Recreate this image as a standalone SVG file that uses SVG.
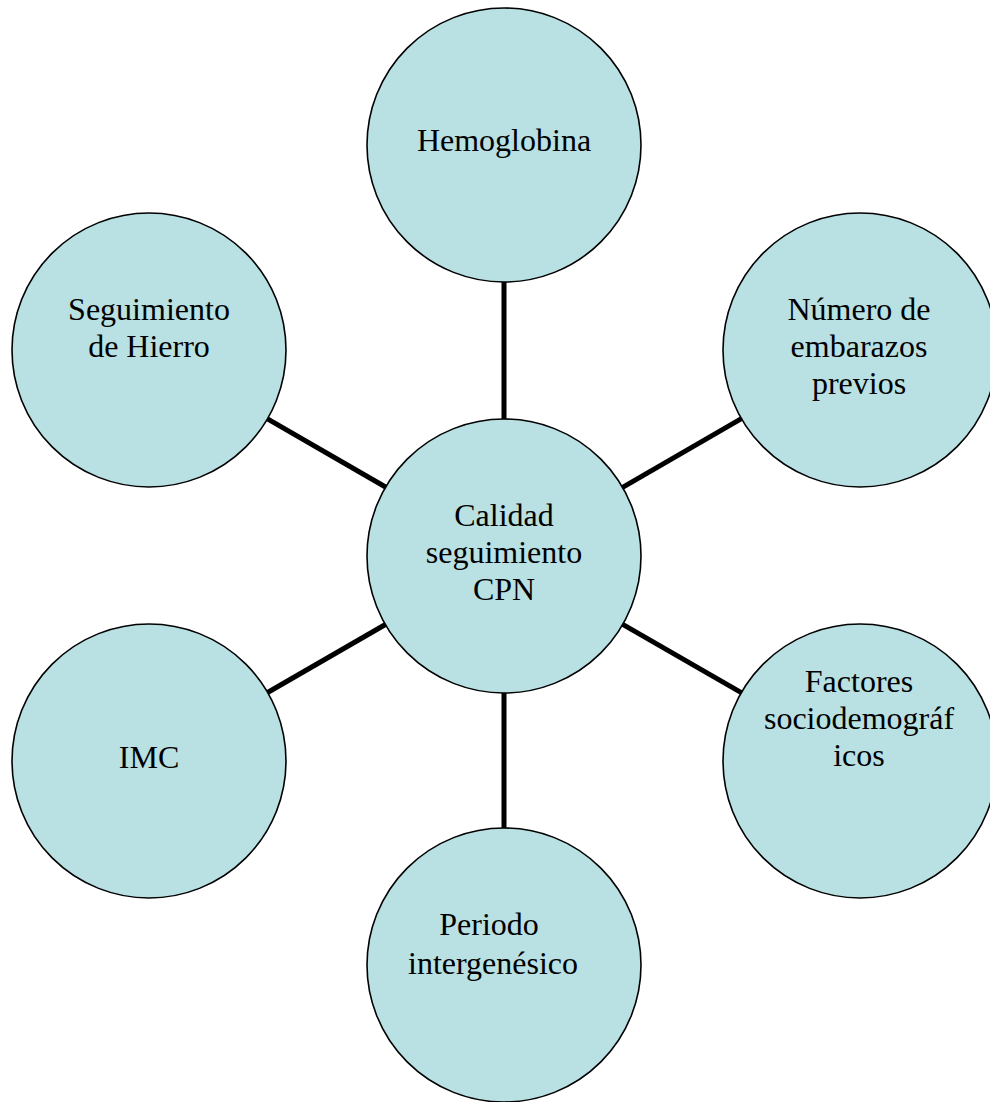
<svg xmlns="http://www.w3.org/2000/svg" width="990" height="1102" viewBox="0 0 990 1102">
<style>
.n{fill:#b9e0e3;stroke:#000;stroke-width:1.6}
.t{font-family:"Liberation Serif","Times New Roman",serif;font-size:32px;fill:#000;text-anchor:middle}
.c{stroke:#000;stroke-width:5;fill:none}
</style>
<rect width="990" height="1102" fill="#fff"/>
<g id="connectors">
<line class="c" x1="504" y1="282" x2="504" y2="419"/>
<line class="c" x1="504" y1="693" x2="504" y2="828"/>
<line class="c" x1="267.5" y1="418.8" x2="385.5" y2="487"/>
<line class="c" x1="741.4" y1="418.6" x2="622.6" y2="487.4"/>
<line class="c" x1="385.4" y1="624.5" x2="267.6" y2="692.5"/>
<line class="c" x1="622.7" y1="624.4" x2="741.3" y2="692.6"/>
</g>
<g id="center">
<circle class="n" cx="504" cy="556" r="137"/>
<text class="t" x="504" y="526">Calidad</text>
<text class="t" x="504" y="563">seguimiento</text>
<text class="t" x="504" y="600">CPN</text>
</g>
<g id="hemoglobina">
<circle class="n" cx="504" cy="145" r="137"/>
<text class="t" x="504" y="151">Hemoglobina</text>
</g>
<g id="seguimiento-hierro">
<circle class="n" cx="149" cy="350" r="137"/>
<text class="t" x="149" y="320">Seguimiento</text>
<text class="t" x="149" y="357">de Hierro</text>
</g>
<g id="numero-embarazos">
<circle class="n" cx="860" cy="350" r="137"/>
<text class="t" x="859" y="320">Número de</text>
<text class="t" x="859" y="357">embarazos</text>
<text class="t" x="859" y="394">previos</text>
</g>
<g id="imc">
<circle class="n" cx="149" cy="761" r="137"/>
<text class="t" x="149" y="768">IMC</text>
</g>
<g id="factores">
<circle class="n" cx="860" cy="761" r="137"/>
<text class="t" x="859" y="692">Factores</text>
<text class="t" x="859" y="729">sociodemográf</text>
<text class="t" x="859" y="766">icos</text>
</g>
<g id="periodo">
<circle class="n" cx="504" cy="965" r="137"/>
<text class="t" x="489" y="935">Periodo</text>
<text class="t" x="493" y="974">intergenésico</text>
</g>
</svg>
